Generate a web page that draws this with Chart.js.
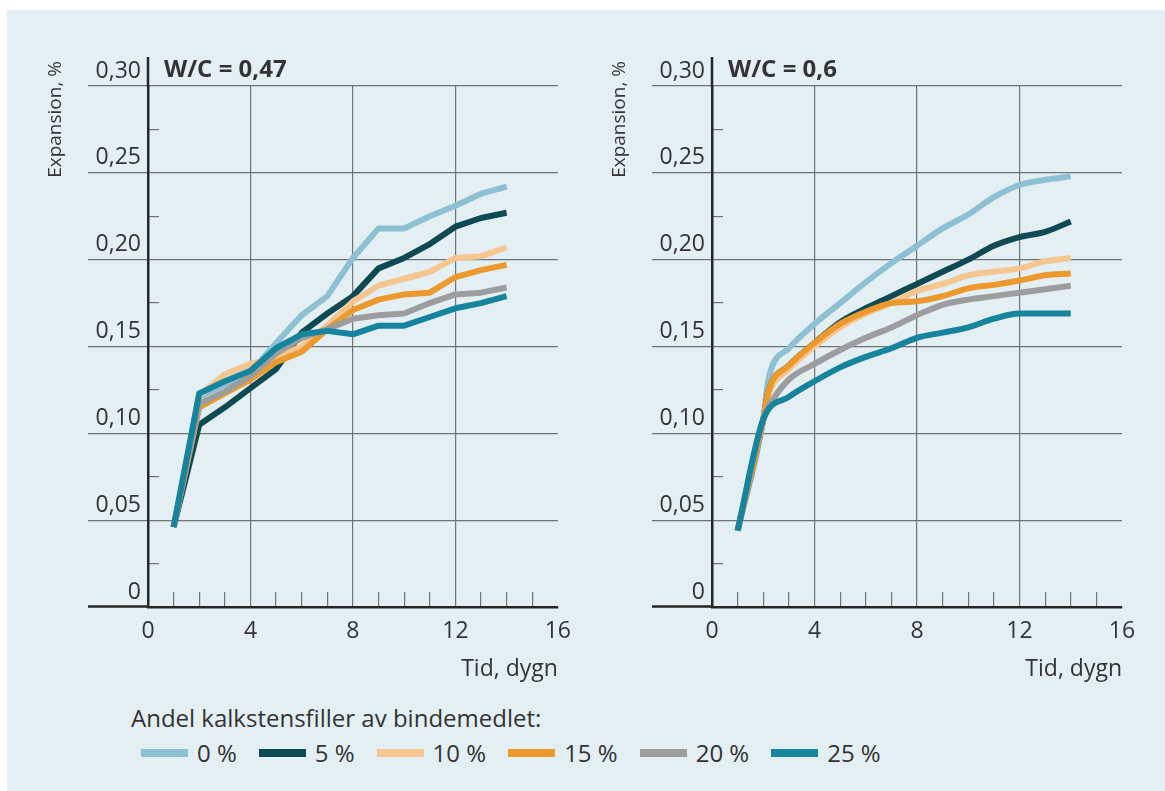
<!DOCTYPE html>
<html lang="sv">
<head>
<meta charset="UTF-8">
<title>Expansion med kalkstensfiller</title>
<script src="https://cdn.jsdelivr.net/npm/chart.js@4.4.1/dist/chart.umd.min.js"></script>
<style>
  html, body { margin: 0; padding: 0; background: #fff; overflow: hidden; }
  body { width: 1165px; height: 791px; position: relative; font-family: "Open Sans", sans-serif; color: #333; }
  .panel { position: absolute; left: 7px; top: 10px; right: 0; bottom: 0; background: #e4eff3; }
  canvas { position: absolute; top: 0; }
  #diagram047 { left: 0; }
  #diagram06 { left: 582px; }
  #forklaring { position: absolute; left: 131px; top: 701px; font-size: 24px; line-height: 33px; }
  #poster { display: flex; align-items: center; margin-left: 10px; margin-top: 2px; }
  .post { display: flex; align-items: center; margin-right: 22px; }
  .farg { width: 47px; height: 8px; margin-right: 9px; }
</style>
</head>
<body>
<div class="panel"></div>
<canvas id="diagram047" width="582" height="700"></canvas>
<canvas id="diagram06" width="583" height="700"></canvas>
<div id="forklaring">
  <div>Andel kalkstensfiller av bindemedlet:</div>
  <div id="poster"></div>
</div>
<script>
// andel kalkstensfiller och linjefärger
const andelar = ['0 %', '5 %', '10 %', '15 %', '20 %', '25 %'];
const farger = ['#8ec0d3', '#0f4a54', '#f6c690', '#ec9a2e', '#9b9d9e', '#16849c'];

// W/C = 0,47, expansion (%) per dygn
const dygn047 = [1, 2, 3, 4, 5, 6, 7, 8, 9, 10, 11, 12, 13, 14];
const wc047_p0  = [0.046, 0.121, 0.128, 0.135, 0.152, 0.168, 0.179, 0.201, 0.218, 0.218, 0.225, 0.231, 0.238, 0.242];
const wc047_p5  = [0.046, 0.105, 0.115, 0.126, 0.137, 0.158, 0.169, 0.179, 0.195, 0.201, 0.209, 0.219, 0.224, 0.227];
const wc047_p10 = [0.046, 0.122, 0.134, 0.140, 0.144, 0.150, 0.162, 0.176, 0.185, 0.189, 0.193, 0.201, 0.202, 0.207];
const wc047_p15 = [0.046, 0.115, 0.123, 0.131, 0.141, 0.147, 0.160, 0.171, 0.177, 0.180, 0.181, 0.190, 0.194, 0.197];
const wc047_p20 = [0.046, 0.117, 0.124, 0.133, 0.146, 0.155, 0.160, 0.166, 0.168, 0.169, 0.175, 0.180, 0.181, 0.184];
const wc047_p25 = [0.046, 0.123, 0.130, 0.136, 0.149, 0.157, 0.159, 0.157, 0.162, 0.162, 0.167, 0.172, 0.175, 0.179];

// W/C = 0,6 (25 % saknar mätning vid 2,2 dygn)
const dygn06 = [1, 2, 2.2, 3, 4, 5, 6, 7, 8, 9, 10, 11, 12, 13, 14];
const wc06_p0  = [0.044, 0.108, 0.131, 0.149, 0.163, 0.175, 0.187, 0.198, 0.208, 0.218, 0.226, 0.236, 0.243, 0.246, 0.248];
const wc06_p5  = [0.044, 0.108, 0.124, 0.139, 0.152, 0.164, 0.172, 0.179, 0.186, 0.193, 0.200, 0.208, 0.213, 0.216, 0.222];
const wc06_p10 = [0.044, 0.108, 0.122, 0.137, 0.150, 0.161, 0.169, 0.175, 0.182, 0.186, 0.191, 0.193, 0.195, 0.199, 0.201];
const wc06_p15 = [0.044, 0.108, 0.124, 0.139, 0.152, 0.163, 0.170, 0.175, 0.176, 0.179, 0.1835, 0.1855, 0.188, 0.191, 0.192];
const wc06_p20 = [0.044, 0.108, 0.115, 0.131, 0.140, 0.148, 0.155, 0.161, 0.168, 0.174, 0.177, 0.179, 0.181, 0.183, 0.185];
const wc06_p25 = [0.044, 0.108, null, 0.121, 0.130, 0.138, 0.144, 0.149, 0.155, 0.158, 0.161, 0.166, 0.169, 0.169, 0.169];

// axlar
const yTicks = [0, 0.05, 0.10, 0.15, 0.20, 0.25, 0.30];
const yMinorTicks = [0.025, 0.075, 0.125, 0.175, 0.225, 0.275];
const xTicks = [0, 4, 8, 12, 16];
const xMinorTicks = [1, 2, 3, 5, 6, 7, 9, 10, 11, 13, 14, 15];

const textFarg = '#333';
const axelFarg = '#262626';
const rutFarg = '#6e7376';
const fontFamily = '"Open Sans", sans-serif';

// y-axeln fortsätter ovanför 0,30, med W/C-rubrik och axeltitel
const panelText = {
  id: 'panelText',
  afterDraw(chart, args, opts) {
    const { ctx, chartArea } = chart;
    const x0 = chart.scales.y.right;
    ctx.save();
    ctx.strokeStyle = axelFarg;
    ctx.lineWidth = 2.5;
    ctx.beginPath();
    ctx.moveTo(x0, chartArea.top + 1);
    ctx.lineTo(x0, chartArea.top - 29);
    ctx.stroke();

    ctx.fillStyle = textFarg;
    ctx.textBaseline = 'middle';
    ctx.font = 'bold 24px ' + fontFamily;
    ctx.fillText(opts.rubrik, chartArea.left + 16, chartArea.top - 16);

    ctx.font = '19px ' + fontFamily;
    ctx.translate(chartArea.left - 92, chartArea.top - 25);
    ctx.rotate(-Math.PI / 2);
    ctx.textAlign = 'right';
    ctx.fillText('Expansion, %', 0, 0);
    ctx.restore();
  }
};

function skapaDiagram(id, rubrik, dygn, serier, mjuk, yBredd, hogerMarg) {
  const datasets = serier.map((v, i) => ({
    label: andelar[i],
    data: dygn.map((d, j) => ({ x: d, y: v[j] })),
    borderColor: farger[i],
    backgroundColor: farger[i],
    borderWidth: 6,
    borderJoinStyle: 'round',
    pointRadius: 0,
    spanGaps: true,
    cubicInterpolationMode: mjuk ? 'monotone' : 'default',
    order: serier.length - i
  }));

  new Chart(document.getElementById(id), {
    type: 'line',
    data: { datasets },
    plugins: [panelText],
    options: {
      responsive: false,
      animation: false,
      layout: { padding: { left: 0, right: hogerMarg, top: 86, bottom: 0 } },
      plugins: {
        legend: { display: false },
        tooltip: { enabled: false },
        panelText: { rubrik }
      },
      scales: {
        x: {
          type: 'linear',
          position: 'bottom',
          weight: 1,
          min: 0,
          max: 16,
          afterBuildTicks: s => { s.ticks = xTicks.map(value => ({ value })); },
          afterFit: s => { s.height = 93; },
          grid: {
            drawTicks: false,
            color: c => (c.tick.value > 0 && c.tick.value < 16) ? rutFarg : 'transparent',
            lineWidth: 1.2
          },
          border: { display: true, color: axelFarg, width: 2.5 },
          ticks: {
            padding: 11,
            color: textFarg,
            font: { family: fontFamily, size: 23 }
          },
          title: {
            display: true,
            text: 'Tid, dygn',
            align: 'end',
            color: textFarg,
            font: { family: fontFamily, size: 23 },
            padding: { top: 4, bottom: 17 }
          }
        },
        xMinor: {
          type: 'linear',
          position: 'bottom',
          weight: 0,
          min: 0,
          max: 16,
          afterBuildTicks: s => { s.ticks = xMinorTicks.map(value => ({ value })); },
          afterFit: s => { s.height = 0; },
          grid: { drawOnChartArea: false, drawTicks: true, tickLength: -15, color: rutFarg, lineWidth: 1.2 },
          border: { display: false },
          ticks: { display: false }
        },
        y: {
          type: 'linear',
          position: 'left',
          weight: 1,
          min: 0,
          max: 0.30,
          afterBuildTicks: s => { s.ticks = yTicks.map(value => ({ value })); },
          afterFit: s => { s.width = yBredd; },
          grid: {
            drawTicks: true,
            tickLength: 60,
            color: c => c.tick.value === 0 ? 'transparent' : rutFarg,
            lineWidth: 1.2,
            tickColor: c => c.tick.value === 0 ? axelFarg : rutFarg,
            tickWidth: c => c.tick.value === 0 ? 2.5 : 1.2
          },
          border: { display: true, color: axelFarg, width: 2.5 },
          ticks: {
            padding: -53,
            labelOffset: -15,
            color: textFarg,
            font: { family: fontFamily, size: 23 },
            callback: v => v === 0 ? '0' : v.toFixed(2).replace('.', ',')
          }
        },
        yMinor: {
          type: 'linear',
          position: 'left',
          weight: 0,
          min: 0,
          max: 0.30,
          afterBuildTicks: s => { s.ticks = yMinorTicks.map(value => ({ value })); },
          afterFit: s => { s.width = 0; },
          grid: { drawOnChartArea: false, drawTicks: true, tickLength: -11, color: rutFarg, lineWidth: 1.2 },
          border: { display: false },
          ticks: { display: false }
        }
      }
    }
  });
}

skapaDiagram('diagram047', 'W/C = 0,47', dygn047,
  [wc047_p0, wc047_p5, wc047_p10, wc047_p15, wc047_p20, wc047_p25], false, 148, 23);
skapaDiagram('diagram06', 'W/C = 0,6', dygn06,
  [wc06_p0, wc06_p5, wc06_p10, wc06_p15, wc06_p20, wc06_p25], true, 130, 43);

// förklaring under diagrammen
const poster = document.getElementById('poster');
andelar.forEach((namn, i) => {
  const post = document.createElement('div');
  post.className = 'post';
  const ruta = document.createElement('span');
  ruta.className = 'farg';
  ruta.style.background = farger[i];
  const text = document.createElement('span');
  text.textContent = namn;
  post.appendChild(ruta);
  post.appendChild(text);
  poster.appendChild(post);
});
</script>
</body>
</html>
